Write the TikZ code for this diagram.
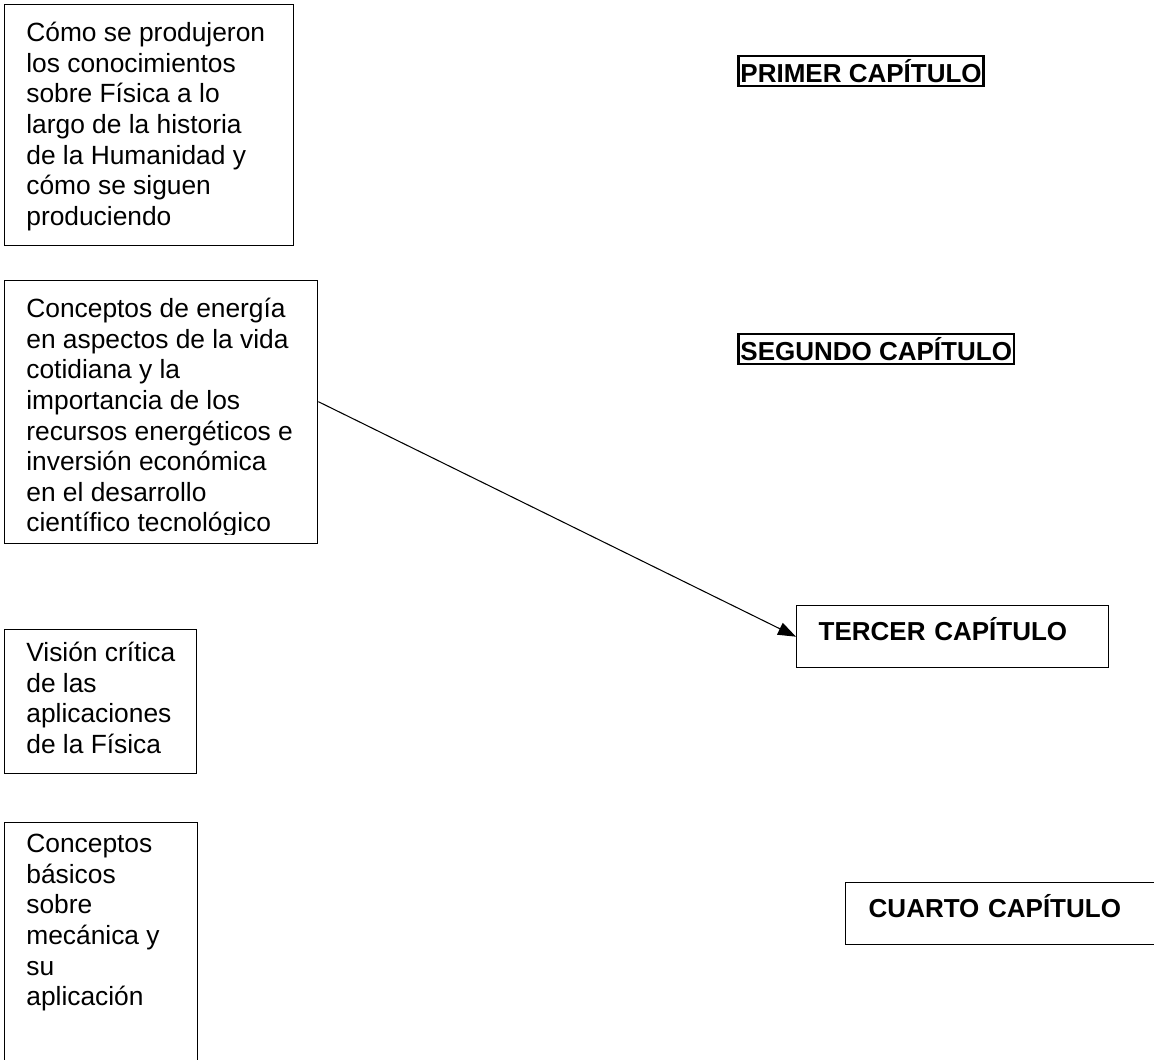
\documentclass[tikz,border=0pt]{standalone}
\usepackage{fontspec}
\setmainfont{Liberation Sans}
\usetikzlibrary{arrows.meta,positioning}

\begin{document}
\begin{tikzpicture}[
    x=0.02cm, y=-0.02cm,
    box/.style={draw, line width=0.8pt, anchor=north west, inner sep=0pt},
    txt/.style={anchor=north west, align=left, inner sep=0pt, font=\fontsize{15}{17.4}\selectfont},
    chapter/.style={draw, line width=1.5pt, anchor=west, inner xsep=1.2pt, inner ysep=2pt, font=\fontsize{14.8}{17}\selectfont\bfseries},
    chapbox/.style={draw, line width=0.8pt, anchor=north west, inner ysep=0pt, text depth=0.3cm, align=left, font=\fontsize{14.8}{17}\selectfont\bfseries},
    arrow/.style={-{Triangle[length=0.36cm, width=0.26cm]}, line width=0.6pt}
]
    \useasboundingbox (0,0) rectangle (1154,1060);

    % Left column
    \node[box, minimum width=5.78cm, minimum height=4.82cm] (historia) at (4,4) {};
    \node[txt] (historiatxt) at (26,22) {Cómo se produjeron\\los conocimientos\\sobre Física a lo\\largo de la historia\\de la Humanidad y\\cómo se siguen\\produciendo};

    \node[box, minimum width=6.26cm, minimum height=5.26cm] (energia) at (4,280) {};
    \begin{scope}
        \clip (energia.north west) rectangle ([yshift=0.19cm]energia.south east);
        \node[txt] (energiatxt) at (26,298) {Conceptos de energía\\en aspectos de la vida\\cotidiana y la\\importancia de los\\recursos energéticos e\\inversión económica\\en el desarrollo\\científico tecnológico};
    \end{scope}

    \node[box, minimum width=3.84cm, minimum height=2.88cm] (vision) at (4,629) {};
    \node[txt] (visiontxt) at (26,642) {Visión crítica\\de las\\aplicaciones\\de la Física};

    \node[box, minimum width=3.86cm, minimum height=5.2cm] (mecanica) at (4,822) {};
    \node[txt] (mecanicatxt) at (26,834) {Conceptos\\básicos\\sobre\\mecánica y\\su\\aplicación};

    % Right column
    \node[chapter] (primer) at (737,71) {PRIMER CAPÍTULO};
    \node[chapter] (segundo) at (737,349) {SEGUNDO CAPÍTULO};
    \node[chapbox, minimum width=6.24cm, minimum height=1.24cm, inner xsep=0.44cm, text width=5.36cm] (tercer) at (796,605) {TERCER CAPÍTULO};
    \node[chapbox, minimum width=6.6cm, minimum height=1.24cm, inner xsep=0.46cm, text width=5.68cm] (cuarto) at (845,882) {CUARTO CAPÍTULO};

    % Arrow
    \draw[arrow] ([yshift=0.21cm]energia.east) -- (tercer.west);
\end{tikzpicture}
\end{document}
